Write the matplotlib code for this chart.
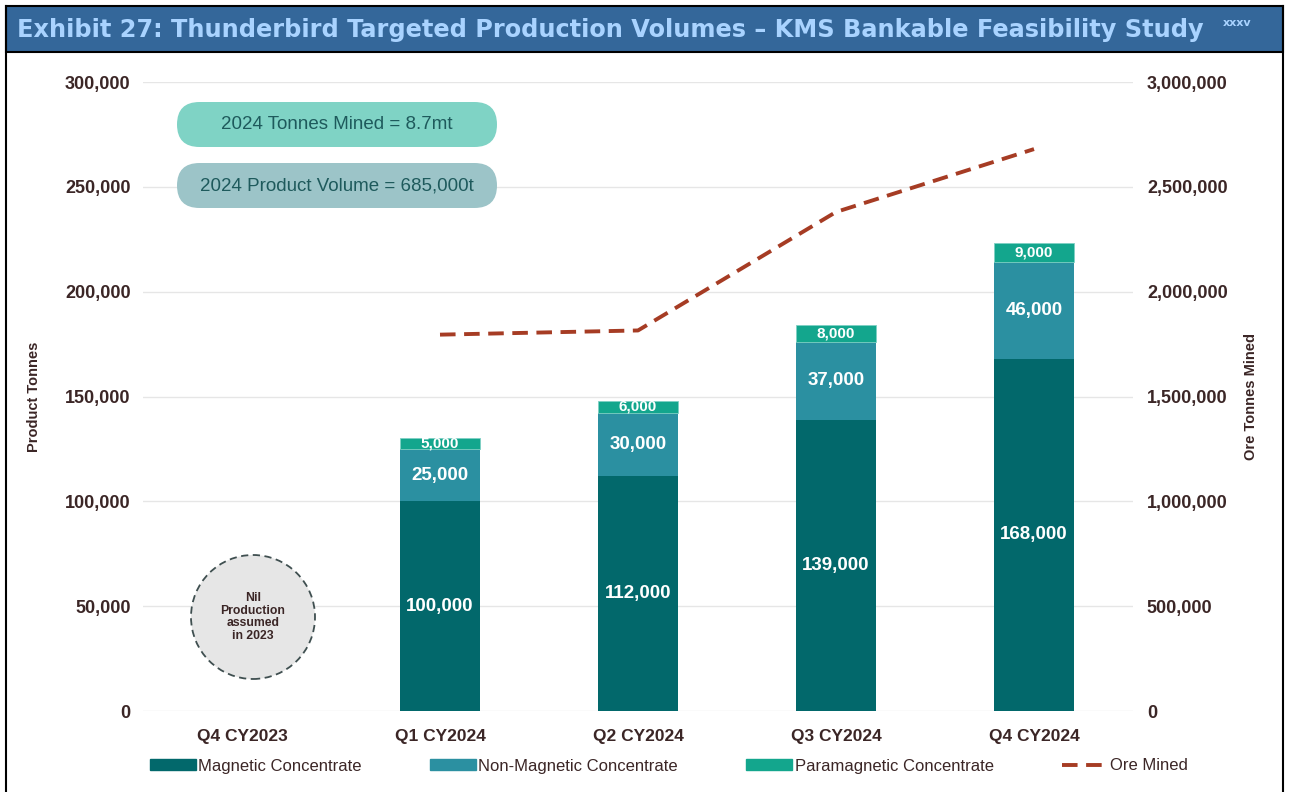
import numpy as np
import matplotlib.pyplot as plt
from matplotlib.patches import FancyBboxPatch, Circle, Patch, Rectangle
from matplotlib.lines import Line2D
from matplotlib.ticker import FuncFormatter

# Données
quarters = ['Q4 CY2023', 'Q1 CY2024', 'Q2 CY2024', 'Q3 CY2024', 'Q4 CY2024']
magnetic = [0, 100000, 112000, 139000, 168000]
non_magnetic = [0, 25000, 30000, 37000, 46000]
paramagnetic = [0, 5000, 6000, 8000, 9000]
ore_quarters = [1, 2, 3, 4]
ore_mined = [1795000, 1815000, 2380000, 2680000]

c_mag = '#02686b'
c_non = '#2b90a1'
c_para = '#13a68d'
c_ore = '#a63c24'
c_txt = '#3b2626'

fig = plt.figure(figsize=(12.89, 7.92), dpi=100)
plt.rcParams['font.family'] = ['Liberation Sans', 'DejaVu Sans']

# Bandeau du titre
fig.add_artist(Rectangle((6 / 1289, 1 - 52 / 792), 1277 / 1289, 46 / 792,
                         transform=fig.transFigure, facecolor='#34679a',
                         edgecolor='black', linewidth=1.5))
fig.add_artist(Line2D([6 / 1289, 6 / 1289], [0, 1 - 6 / 792], transform=fig.transFigure,
                      color='black', linewidth=1.5))
fig.add_artist(Line2D([1283 / 1289, 1283 / 1289], [0, 1 - 6 / 792], transform=fig.transFigure,
                      color='black', linewidth=1.5))
fig.text(17 / 1289, 1 - 30 / 792,
         'Exhibit 27: Thunderbird Targeted Production Volumes \u2013 KMS Bankable Feasibility Study',
         color='#a9d3ff', fontsize=17.3, fontweight='bold', va='center',
         family=['DejaVu Sans'])
fig.text(1223 / 1289, 1 - 23 / 792, 'xxxv', color='#a9d3ff', fontsize=8,
         fontweight='bold', va='center', family=['DejaVu Sans'])

ax = fig.add_axes([143 / 1289, 81 / 792, 990 / 1289, 629 / 792])
x = np.arange(len(quarters))
w = 0.40
bottom2 = np.array(magnetic)
bottom3 = bottom2 + np.array(non_magnetic)
ax.bar(x, magnetic, w, color=c_mag, zorder=2)
ax.bar(x, non_magnetic, w, bottom=bottom2, color=c_non, zorder=2)
ax.bar(x, paramagnetic, w, bottom=bottom3, color=c_para, zorder=2,
       edgecolor='#7fd0c4', linewidth=0.6)

for i in range(1, len(quarters)):
    ax.text(x[i], magnetic[i] / 2, f'{magnetic[i]:,}', ha='center', va='center',
            color='white', fontsize=13.5, fontweight='bold', zorder=3)
    ax.text(x[i], bottom2[i] + non_magnetic[i] / 2, f'{non_magnetic[i]:,}', ha='center',
            va='center', color='white', fontsize=13.5, fontweight='bold', zorder=3)
    ax.text(x[i], bottom3[i] + paramagnetic[i] / 2, f'{paramagnetic[i]:,}', ha='center',
            va='center', color='white', fontsize=11, fontweight='bold', zorder=3)

ax.set_xlim(-0.5, 4.5)
ax.set_ylim(0, 300000)
ax.set_yticks(np.arange(0, 300001, 50000))
ax.yaxis.set_major_formatter(FuncFormatter(lambda v, p: f'{int(v):,}'))
ax.set_xticks(x)
ax.set_xticklabels(quarters)
ax.grid(axis='y', color='#e6e6e6', linewidth=1, zorder=0)
for s in ax.spines.values():
    s.set_visible(False)
ax.tick_params(axis='y', length=0, labelsize=13, labelcolor=c_txt, pad=9)
ax.tick_params(axis='x', length=0, labelsize=12.5, labelcolor=c_txt, pad=13)
for lab in ax.get_xticklabels() + ax.get_yticklabels():
    lab.set_fontweight('bold')
ax.set_ylabel('Product Tonnes', fontsize=10.5, fontweight='bold', color=c_txt, labelpad=17)

ax2 = ax.twinx()
ax2.plot(ore_quarters, ore_mined, color=c_ore, linewidth=2.8, linestyle=(0, (4, 2.2)),
         zorder=4)
ax2.set_ylim(0, 3000000)
ax2.set_yticks(np.arange(0, 3000001, 500000))
ax2.yaxis.set_major_formatter(FuncFormatter(lambda v, p: f'{int(v):,}'))
for s in ax2.spines.values():
    s.set_visible(False)
ax2.tick_params(length=0, labelsize=13, labelcolor=c_txt, pad=10)
for lab in ax2.get_yticklabels():
    lab.set_fontweight('bold')
ax2.set_ylabel('Ore Tonnes Mined', fontsize=10.5, fontweight='bold', color=c_txt, labelpad=12)

# Encadrés arrondis
pills = [(6.45, '#7fd3c5', '2024 Tonnes Mined = 8.7mt'),
         (5.84, '#9cc4c8', '2024 Product Volume = 685,000t')]
for yb, col, txt in pills:
    fig.add_artist(FancyBboxPatch((1.77, yb), 3.2, 0.45,
                                  boxstyle='round,pad=0,rounding_size=0.225',
                                  transform=fig.dpi_scale_trans, facecolor=col,
                                  edgecolor='none'))
    fig.text(3.37 / 12.89, (yb + 0.225) / 7.92, txt, ha='center', va='center',
             fontsize=13.5, color='#1e5a5c')

# Cercle "Nil production"
fig.add_artist(Circle((2.53, 1.75), 0.62, transform=fig.dpi_scale_trans,
                      facecolor='#e6e6e6', edgecolor='#3f4f50', linewidth=1.3,
                      linestyle=(0, (4, 2.5))))
fig.text(2.53 / 12.89, 1.75 / 7.92, 'Nil\nProduction\nassumed\nin 2023', ha='center',
         va='center', fontsize=8.8, fontweight='bold', color=c_txt, linespacing=1.05)

handles = [Patch(color=c_mag, label='Magnetic Concentrate'),
           Patch(color=c_non, label='Non-Magnetic Concentrate'),
           Patch(color=c_para, label='Paramagnetic Concentrate'),
           Line2D([0], [0], color=c_ore, linewidth=2.8, linestyle=(0, (4, 2.2)),
                  label='Ore Mined')]
leg = fig.legend(handles=handles, loc='center', bbox_to_anchor=(669 / 1289, 26 / 792), ncol=4,
                 frameon=False, fontsize=12, handlelength=2.75, handleheight=0.6,
                 handletextpad=0.15, columnspacing=4.1)
for t in leg.get_texts():
    t.set_color(c_txt)

fig.savefig('out.png', dpi=100)
